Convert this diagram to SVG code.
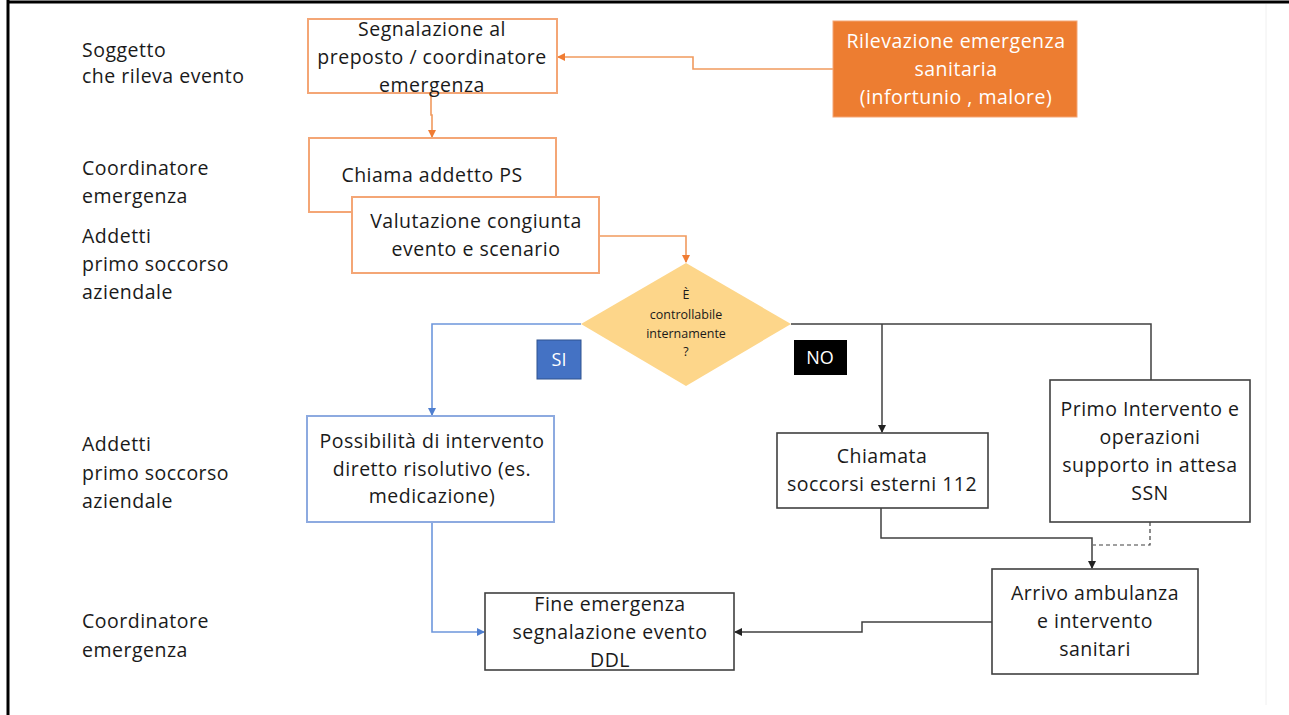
<svg xmlns="http://www.w3.org/2000/svg" width="1289" height="715" viewBox="0 0 1289 715">
<style>
text{font-family:"Open Sans","Liberation Sans",sans-serif;fill:#1a1a1a;}
.lbl{font-size:19.5px;letter-spacing:0.5px;}
.t{font-size:19.5px;text-anchor:middle;letter-spacing:0.5px;}
.w{fill:#ffffff;}
.or{fill:#ffffff;stroke:#F4A676;stroke-width:2;}
.bl{fill:#ffffff;stroke:#8DAAE0;stroke-width:2;}
.bk{fill:#ffffff;stroke:#404040;stroke-width:1.6;}
.co{fill:none;stroke:#F19A5E;stroke-width:1.6;}
.cb{fill:none;stroke:#6D97DC;stroke-width:1.6;}
.ck{fill:none;stroke:#404040;stroke-width:1.5;}
.cd{fill:none;stroke:#404040;stroke-width:1.2;stroke-dasharray:4 3;}
</style>
<defs>
<marker id="ao" markerWidth="8" markerHeight="8" refX="7" refY="4" orient="auto" markerUnits="userSpaceOnUse"><path d="M0,0 L8,4 L0,8 z" fill="#F07C33"/></marker>
<marker id="ab" markerWidth="8" markerHeight="8" refX="7" refY="4" orient="auto" markerUnits="userSpaceOnUse"><path d="M0,0 L8,4 L0,8 z" fill="#4F7FD0"/></marker>
<marker id="ak" markerWidth="8" markerHeight="8" refX="7" refY="4" orient="auto" markerUnits="userSpaceOnUse"><path d="M0,0 L8,4 L0,8 z" fill="#222"/></marker>
</defs>
<rect width="1289" height="715" fill="#ffffff"/>
<line x1="7" y1="2" x2="1289" y2="2" stroke="#000" stroke-width="3"/>
<line x1="8" y1="0" x2="8" y2="715" stroke="#000" stroke-width="3"/>
<line x1="1266" y1="4" x2="1266" y2="705" stroke="#f0f0f0" stroke-width="1"/>

<g id="lane-labels">
<text class="lbl" x="82" y="57">Soggetto</text>
<text class="lbl" x="82" y="83">che rileva evento</text>
<text class="lbl" x="82" y="175">Coordinatore</text>
<text class="lbl" x="82" y="203">emergenza</text>
<text class="lbl" x="82" y="243">Addetti</text>
<text class="lbl" x="82" y="271">primo soccorso</text>
<text class="lbl" x="82" y="299">aziendale</text>
<text class="lbl" x="82" y="451">Addetti</text>
<text class="lbl" x="82" y="480">primo soccorso</text>
<text class="lbl" x="82" y="508">aziendale</text>
<text class="lbl" x="82" y="628">Coordinatore</text>
<text class="lbl" x="82" y="657">emergenza</text>
</g>

<g id="connectors">
<path class="co" d="M833,69 H693 V57 H558" marker-end="url(#ao)"/>
<path class="co" d="M431,93 V115 H432 V137" marker-end="url(#ao)"/>
<path class="co" d="M599,236 H686 V262" marker-end="url(#ao)"/>
<path class="cb" d="M581,324 H432 V415" marker-end="url(#ab)"/>
<path class="cb" d="M432,522 V632 H484" marker-end="url(#ab)"/>
<path class="ck" d="M791,324 H1151 V380"/>
<path class="ck" d="M882,324 V432" marker-end="url(#ak)"/>
<path class="ck" d="M881,508 V538 H1092 V568" marker-end="url(#ak)"/>
<path class="cd" d="M1150,522 V545 H1093"/>
<path class="ck" d="M992,622 H862 V632 H735" marker-end="url(#ak)"/>
</g>

<g id="segnalazione">
<rect class="or" x="308" y="19" width="249" height="74"/>
<text class="t" x="432" y="36">Segnalazione al</text>
<text class="t" x="432" y="64">preposto / coordinatore</text>
<text class="t" x="432" y="92">emergenza</text>
</g>

<g id="rilevazione">
<rect x="833" y="21" width="244" height="96" fill="#ED7D31" stroke="#F4A676" stroke-width="1"/>
<text class="t w" x="956" y="48">Rilevazione emergenza</text>
<text class="t w" x="956" y="76">sanitaria</text>
<text class="t w" x="956" y="104">(infortunio , malore)</text>
</g>

<g id="chiama">
<rect class="or" x="309" y="138" width="247" height="74"/>
<text class="t" x="432" y="182">Chiama addetto PS</text>
</g>

<g id="valutazione">
<rect class="or" x="352" y="197" width="247" height="76"/>
<text class="t" x="476" y="228">Valutazione congiunta</text>
<text class="t" x="476" y="256">evento e scenario</text>
</g>

<g id="decisione">
<polygon points="686,263 791,324 686,386 581,324" fill="#FDD68A"/>
<text x="686" y="299" font-size="12.5" text-anchor="middle">È</text>
<text x="686" y="319" font-size="12.5" text-anchor="middle">controllabile</text>
<text x="686" y="338" font-size="12.5" text-anchor="middle">internamente</text>
<text x="686" y="356" font-size="12.5" text-anchor="middle">?</text>
</g>

<g id="si">
<rect x="537" y="340" width="44" height="39" fill="#4472C4" stroke="#2F528F" stroke-width="1"/>
<text class="w" x="559" y="366" font-size="18" text-anchor="middle">SI</text>
</g>

<g id="no">
<rect x="794" y="340" width="53" height="35" fill="#000000"/>
<text class="w" x="820" y="364" font-size="18" text-anchor="middle">NO</text>
</g>

<g id="possibilita">
<rect class="bl" x="307" y="416" width="247" height="106"/>
<text class="t" x="432" y="448">Possibilità di intervento</text>
<text class="t" x="432" y="476">diretto risolutivo (es.</text>
<text class="t" x="432" y="503">medicazione)</text>
</g>

<g id="chiamata">
<rect class="bk" x="777" y="433" width="211" height="75"/>
<text class="t" x="882" y="463">Chiamata</text>
<text class="t" x="882" y="491">soccorsi esterni 112</text>
</g>

<g id="primo">
<rect class="bk" x="1050" y="380" width="200" height="142"/>
<text class="t" x="1150" y="416">Primo Intervento e</text>
<text class="t" x="1150" y="444">operazioni</text>
<text class="t" x="1150" y="472">supporto in attesa</text>
<text class="t" x="1150" y="500">SSN</text>
</g>

<g id="arrivo">
<rect class="bk" x="992" y="569" width="206" height="105"/>
<text class="t" x="1095" y="600">Arrivo ambulanza</text>
<text class="t" x="1095" y="628">e intervento</text>
<text class="t" x="1095" y="656">sanitari</text>
</g>

<g id="fine">
<rect class="bk" x="485" y="593" width="249" height="77"/>
<text class="t" x="610" y="611">Fine emergenza</text>
<text class="t" x="610" y="639">segnalazione evento</text>
<text class="t" x="610" y="667">DDL</text>
</g>
</svg>
